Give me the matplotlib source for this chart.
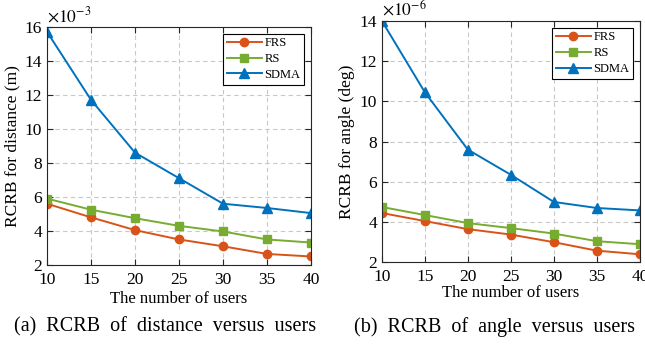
import numpy as np
import matplotlib
matplotlib.use("Agg")
import matplotlib.pyplot as plt

plt.rcParams['font.family'] = ['Liberation Serif', 'DejaVu Serif']
plt.rcParams['mathtext.fontset'] = 'stix'

# number of users
users = [10, 15, 20, 25, 30, 35, 40]

# RCRB for distance (x 1e-3 m)
dist_frs = [5.6, 4.8, 4.05, 3.5, 3.1, 2.65, 2.5]
dist_rs = [5.9, 5.25, 4.75, 4.3, 3.97, 3.5, 3.32]
dist_sdma = [15.7, 11.7, 8.6, 7.1, 5.6, 5.35, 5.05]

# RCRB for angle (x 1e-6 deg)
ang_frs = [4.45, 4.05, 3.65, 3.38, 3.0, 2.58, 2.4]
ang_rs = [4.75, 4.35, 3.95, 3.7, 3.43, 3.05, 2.9]
ang_sdma = [14.0, 10.45, 7.6, 6.35, 5.0, 4.7, 4.58]

c_frs = '#D95319'
c_rs = '#77AC30'
c_sdma = '#0072BD'

fig = plt.figure(figsize=(6.45, 3.47), dpi=100)
ax1 = fig.add_axes([0.0729, 0.2363, 0.4093, 0.6867])
ax2 = fig.add_axes([0.592, 0.244, 0.400, 0.696])


def draw(ax, frs, rs, sdma, ylim, yticks, ylabel, expo, xpad):
    ax.plot(users, frs, '-o', color=c_frs, lw=1.4, ms=6, label='FRS')
    ax.plot(users, rs, '-s', color=c_rs, lw=1.4, ms=5.5, label='RS')
    ax.plot(users, sdma, '-^', color=c_sdma, lw=1.4, ms=6.5, label='SDMA')
    ax.set_xlim(10, 40)
    ax.set_ylim(*ylim)
    ax.set_xticks(users)
    ax.set_yticks(yticks)
    ax.grid(True, ls=(0, (4, 3)), color='#c8c8c8', lw=0.8)
    ax.tick_params(direction='in', top=True, right=True, labelsize=12.5, length=4, color='#262626')
    ax.tick_params(axis='x', pad=5)
    for s in ax.spines.values():
        s.set_linewidth(0.8)
        s.set_color('#262626')
    ax.set_xlabel('The number of users', fontsize=12, labelpad=xpad)
    ax.set_ylabel(ylabel, fontsize=12.5, labelpad=3)
    ax.text(0.0, 1.005, r'$\times10^{%d}$' % expo, transform=ax.transAxes, fontsize=12.5,
            ha='left', va='bottom')
    leg = ax.legend(loc='upper right', fontsize=9, fancybox=False, edgecolor='black',
                    framealpha=1, handlelength=2.8, borderpad=0.3, labelspacing=0.3,
                    handletextpad=0.2, borderaxespad=0.55)
    leg.get_frame().set_linewidth(0.8)


draw(ax1, dist_frs, dist_rs, dist_sdma, (2, 16), [2, 4, 6, 8, 10, 12, 14, 16],
     'RCRB for distance (m)', -3, 2)
draw(ax2, ang_frs, ang_rs, ang_sdma, (2, 14), [2, 4, 6, 8, 10, 12, 14],
     'RCRB for angle (deg)', -6, 0)

# captions, wide word spacing like the paper
fig.text(0.256, 0.058, '(a)  RCRB  of  distance  versus  users', fontsize=14.5, ha='center', va='center')
fig.text(0.767, 0.058, '(b)  RCRB  of  angle  versus  users', fontsize=14.5, ha='center', va='center')

fig.savefig('out.png', dpi=100)
